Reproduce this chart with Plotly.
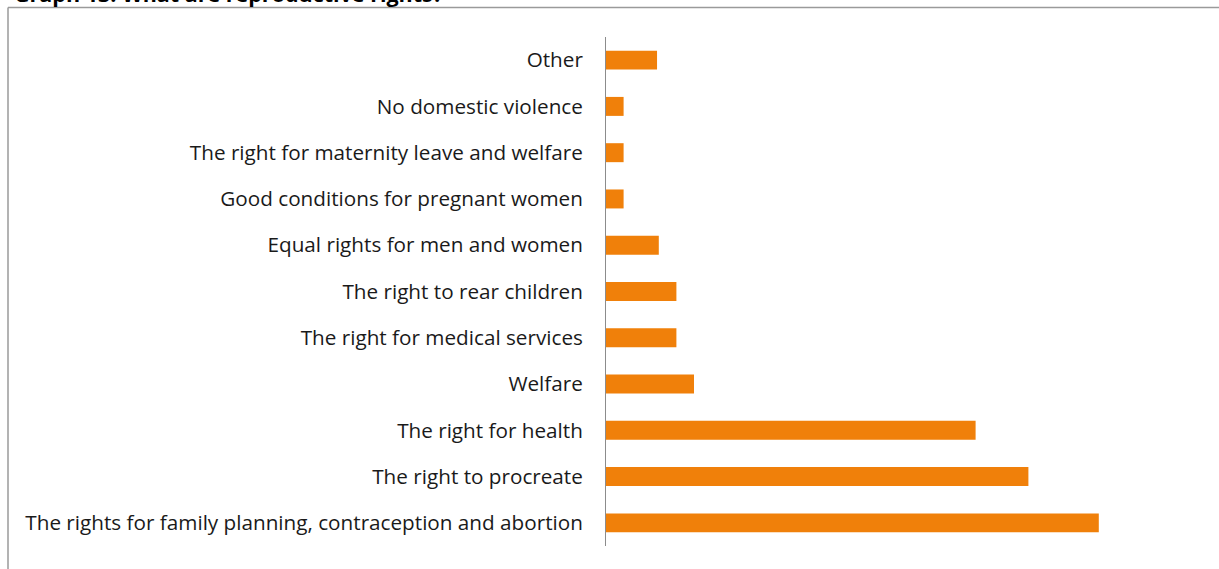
import plotly.graph_objects as go

# Answers to "What are reproductive rights?" (share of responses, %)
categories = [
    "The rights for family planning, contraception and abortion",
    "The right to procreate",
    "The right for health",
    "Welfare",
    "The right for medical services",
    "The right to rear children",
    "Equal rights for men and women",
    "Good conditions for pregnant women",
    "The right for maternity leave and welfare",
    "No domestic violence",
    "Other",
]
values = [28.0, 24.0, 21.0, 5.0, 4.0, 4.0, 3.0, 1.0, 1.0, 1.0, 2.9]

title_text = "Graph 13: What are reproductive rights?"

W, H = 1219, 569
ML, MR, MT, MB = 606, 85, 37, 23
plot_w = W - ML - MR
plot_h = H - MT - MB

fig = go.Figure(
    go.Bar(
        x=values,
        y=categories,
        orientation="h",
        marker=dict(color="#F0800A", line=dict(width=0)),
        width=0.41,
        hoverinfo="x+y",
    )
)

fig.update_layout(
    width=W,
    height=H,
    margin=dict(l=ML, r=MR, t=MT, b=MB, pad=0),
    paper_bgcolor="white",
    plot_bgcolor="white",
    showlegend=False,
    font=dict(family="Open Sans, sans-serif", size=20.7, color="#1a1a1a"),
    xaxis=dict(
        range=[0, 30],
        showgrid=False,
        zeroline=False,
        showticklabels=False,
        ticks="",
        showline=False,
    ),
    yaxis=dict(
        categoryorder="array",
        categoryarray=categories,
        range=[-0.5, len(categories) - 0.5],
        showgrid=False,
        zeroline=False,
        showline=True,
        linecolor="#8c8c8c",
        linewidth=1,
        ticks="",
        ticklabelstandoff=18,
    ),
)

# Frame lines around the chart panel (top and left edges)
x_left = (8 - ML) / plot_w
y_top = 1 + (MT - 7.5) / plot_h
fig.add_shape(type="line", xref="paper", yref="paper",
              x0=x_left, x1=(W - ML) / plot_w, y0=y_top, y1=y_top,
              line=dict(color="#9a9a9a", width=1.5))
fig.add_shape(type="line", xref="paper", yref="paper",
              x0=x_left, x1=x_left, y0=y_top, y1=-(MB + 5) / plot_h,
              line=dict(color="#9a9a9a", width=1.5))

# Chart heading, sitting above the frame
fig.add_annotation(
    text="<b>" + title_text + "</b>",
    xref="paper", yref="paper",
    x=(12 - ML) / plot_w, y=1 + (MT - 10) / plot_h,
    xanchor="left", yanchor="bottom",
    showarrow=False,
    font=dict(family="Open Sans, sans-serif", size=21.5, color="#000000"),
)

fig.write_html("out.html")
